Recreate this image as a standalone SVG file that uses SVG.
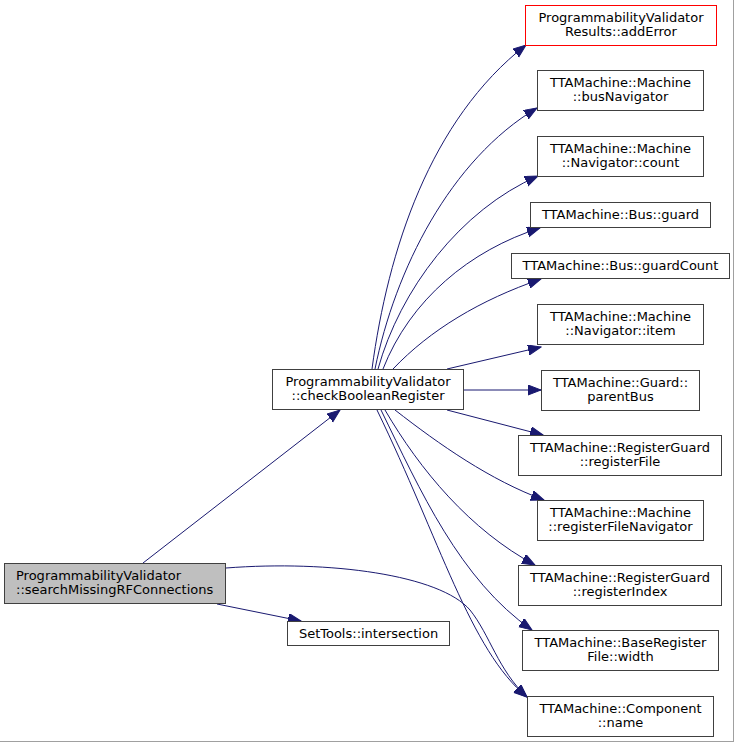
<svg xmlns="http://www.w3.org/2000/svg" width="735" height="743" viewBox="0 0 735 743">
<style>
  .node rect { fill: #ffffff; stroke: #404040; stroke-width: 1; }
  .node.root rect { fill: #bfbfbf; }
  .node.trunc rect { stroke: #ff0000; }
  text { font-family: "DejaVu Sans", "Liberation Sans", sans-serif; font-size: 13px; fill: #000000; text-anchor: middle; }
  .edges path { fill: none; stroke: #191970; stroke-width: 1; marker-end: url(#arr); }
</style>
<defs>
  <marker id="arr" markerUnits="userSpaceOnUse" markerWidth="14" markerHeight="11" refX="13" refY="5" orient="auto">
    <path d="M0,0 L13,5 L0,10 z" fill="#191970" stroke="#191970" stroke-width="1"/>
  </marker>
</defs>
<rect x="0" y="0" width="735" height="743" fill="#ffffff"/>
<line x1="733.5" y1="0" x2="733.5" y2="742" stroke="#a0a0a0"/>
<line x1="0" y1="741.5" x2="734" y2="741.5" stroke="#a0a0a0"/>

<g class="edges" id="edges">
  <path d="M143,563 L340,410"/>
  <path d="M217,604 L301,621"/>
  <path d="M226,568 C330,560 440,575 470,610 C490,635 498,670 527,697"/>
  <path d="M372,369 C388,250 430,120 526,45"/>
  <path d="M375,369 C395,270 450,160 537,108"/>
  <path d="M378,369 C400,290 460,210 538,176"/>
  <path d="M383,369 C410,300 470,250 540,228"/>
  <path d="M393,369 C430,330 480,300 541,279"/>
  <path d="M447,369 L541,347"/>
  <path d="M463,390 L541,390"/>
  <path d="M447,410 L543,435"/>
  <path d="M395,410 C440,445 490,480 544,500"/>
  <path d="M385,410 C420,470 470,530 535,565"/>
  <path d="M381,410 C420,490 460,580 532,630"/>
  <path d="M377,410 C440,540 470,650 527,697"/>
</g>

<g class="node root" id="n_searchMissingRFConnections">
  <rect x="4.5" y="563.5" width="221" height="40"/>
  <text x="16" y="580" style="text-anchor:start">ProgrammabilityValidator</text>
  <text x="16" y="594" style="text-anchor:start">::searchMissingRFConnections</text>
</g>
<g class="node" id="n_checkBooleanRegister">
  <rect x="272.5" y="369.5" width="191" height="40"/>
  <text x="368" y="386">ProgrammabilityValidator</text>
  <text x="368" y="400">::checkBooleanRegister</text>
</g>
<g class="node" id="n_intersection">
  <rect x="287.5" y="621.5" width="162" height="24"/>
  <text x="368.5" y="637.5">SetTools::intersection</text>
</g>
<g class="node trunc" id="n_addError">
  <rect x="525.5" y="5.5" width="191" height="40"/>
  <text x="621" y="22">ProgrammabilityValidator</text>
  <text x="621" y="36">Results::addError</text>
</g>
<g class="node" id="n_busNavigator">
  <rect x="537.5" y="70.5" width="166" height="40"/>
  <text x="620.5" y="87">TTAMachine::Machine</text>
  <text x="620.5" y="101">::busNavigator</text>
</g>
<g class="node" id="n_count">
  <rect x="537.5" y="136.5" width="166" height="40"/>
  <text x="620.5" y="153">TTAMachine::Machine</text>
  <text x="620.5" y="167">::Navigator::count</text>
</g>
<g class="node" id="n_guard">
  <rect x="530.5" y="202.5" width="180" height="25"/>
  <text x="620.5" y="219">TTAMachine::Bus::guard</text>
</g>
<g class="node" id="n_guardCount">
  <rect x="511.5" y="253.5" width="218" height="25"/>
  <text x="620.5" y="270">TTAMachine::Bus::guardCount</text>
</g>
<g class="node" id="n_item">
  <rect x="537.5" y="304.5" width="166" height="40"/>
  <text x="620.5" y="321">TTAMachine::Machine</text>
  <text x="620.5" y="335">::Navigator::item</text>
</g>
<g class="node" id="n_parentBus">
  <rect x="541.5" y="370.5" width="158" height="40"/>
  <text x="620.5" y="387">TTAMachine::Guard::</text>
  <text x="620.5" y="401">parentBus</text>
</g>
<g class="node" id="n_registerFile">
  <rect x="518.5" y="435.5" width="203" height="40"/>
  <text x="620" y="452">TTAMachine::RegisterGuard</text>
  <text x="620" y="466">::registerFile</text>
</g>
<g class="node" id="n_registerFileNavigator">
  <rect x="537.5" y="500.5" width="166" height="40"/>
  <text x="620.5" y="517">TTAMachine::Machine</text>
  <text x="620.5" y="531">::registerFileNavigator</text>
</g>
<g class="node" id="n_registerIndex">
  <rect x="518.5" y="565.5" width="203" height="40"/>
  <text x="620" y="582">TTAMachine::RegisterGuard</text>
  <text x="620" y="596">::registerIndex</text>
</g>
<g class="node" id="n_width">
  <rect x="522.5" y="630.5" width="196" height="40"/>
  <text x="620.5" y="647">TTAMachine::BaseRegister</text>
  <text x="620.5" y="661">File::width</text>
</g>
<g class="node" id="n_name">
  <rect x="527.5" y="696.5" width="186" height="40"/>
  <text x="620.5" y="713">TTAMachine::Component</text>
  <text x="620.5" y="727">::name</text>
</g>
</svg>
